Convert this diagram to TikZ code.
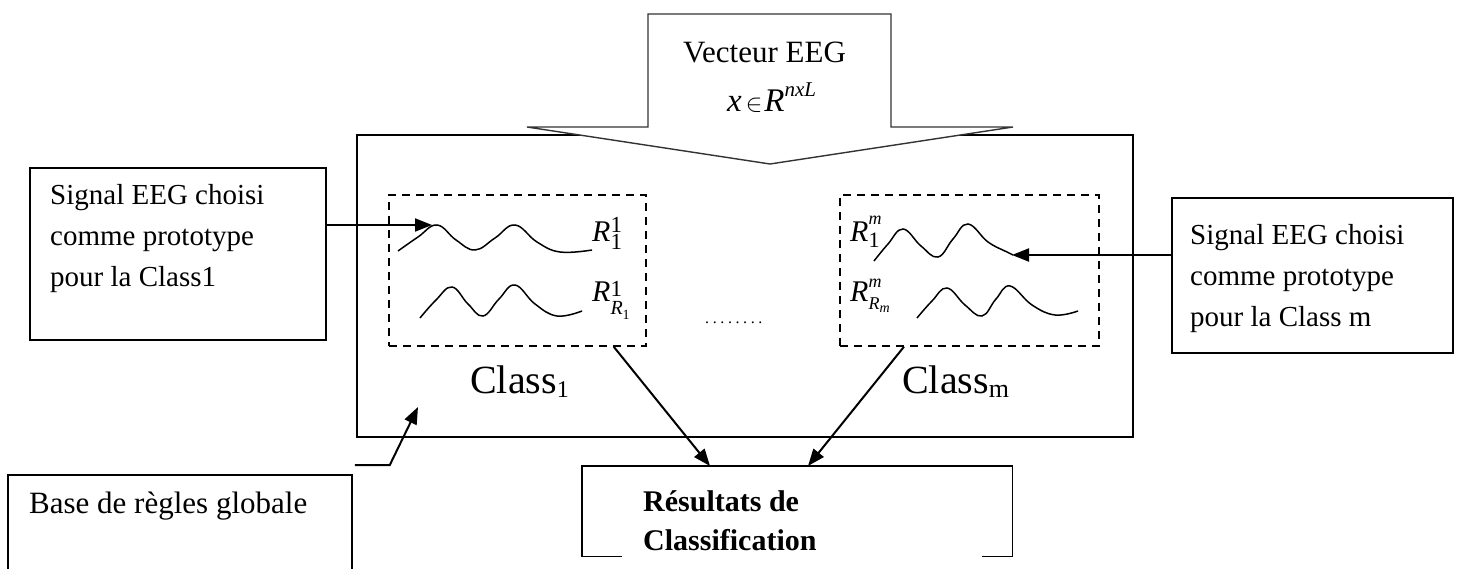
\documentclass[tikz,border=0pt]{standalone}
\usepackage{fontspec}
\setmainfont{Liberation Serif}
\usetikzlibrary{arrows.meta,calc}
\newcommand\fs[1]{\fontsize{#1}{#1}\selectfont}
\newcommand\dotrow{.\kern3.6pt.\kern3.6pt.\kern3.6pt.\kern3.6pt.\kern3.6pt.\kern3.6pt.\kern3.6pt.}
\begin{document}
\begin{tikzpicture}[x=1pt,y=-1pt,line join=miter,
  box/.style={draw,line width=1.8pt,inner sep=0pt,anchor=north west},
  dbox/.style={draw,line width=1.7pt,dash pattern=on 8pt off 6pt,inner sep=0pt,anchor=north west},
  txt/.style={anchor=base west,inner sep=0pt},
  conn/.style={line width=2pt,-{Triangle[length=17pt,width=13pt]}},
  wave/.style={line width=1.5pt,smooth,tension=0.7}]
\useasboundingbox (0,0) rectangle (1460,569);

% main rule-base box
\node[box,minimum width=776pt,minimum height=302pt] (main) at (356,134) {};

% big input arrow
\draw[line width=1.4pt,draw=black!80,fill=white] (648,14) coordinate (arrTL) -- (891,14) -- (891,127) -- (1013,127) -- (770,164) coordinate (arrTip) -- (527,127) -- (648,127) -- cycle;
\node[txt,font=\fs{31}] (vec) at (683,63) {Vecteur EEG};
\node[txt] (xvec) at (727,112) {\fs{33}\textit{x}\kern4pt$\in$\kern2pt\textit{R}\raisebox{15pt}{\fs{21}\textit{nxL}}};

% dashed class boxes
\node[dbox,minimum width=257pt,minimum height=151pt] (cls1) at (388,194) {};
\node[dbox,minimum width=259pt,minimum height=151pt] (clsm) at (839,194) {};

% waves
\draw[wave] plot coordinates {(398,251) (418,237) (437,225) (456,240) (475,250) (495,238) (515,225) (537,242) (560,252) (592,250)};
\draw[wave] plot coordinates {(420,318) (436,300) (452,287) (468,304) (483,316) (499,299) (515,285) (535,304) (557,316) (582,311)};
\draw[wave] plot coordinates {(874,261) (888,244) (903,229) (921,246) (938,257) (953,239) (968,224) (988,242) (1007,252) (1013,255)};
\draw[wave] plot coordinates {(917,318) (932,301) (947,288) (965,305) (982,316) (996,299) (1010,286) (1032,305) (1055,315) (1078,311)};

% R labels
\node[txt] (r11) at (592,242) {\fs{30}\textit{R}\rlap{\raisebox{9pt}{\fs{23}1}}\raisebox{-8pt}{\fs{23}1}};
\node[txt] (r1r) at (592,302) {\fs{30}\textit{R}\rlap{\raisebox{5pt}{\fs{23}1}}\raisebox{-13pt}{\fs{20}\textit{R}\raisebox{-5pt}{\fs{14}1}}};
\node[txt] (rm1) at (850,242) {\fs{30}\textit{R}\rlap{\raisebox{17pt}{\fs{18}\textit{m}}}\raisebox{-6pt}{\fs{22}1}};
\node[txt] (rmr) at (850,302) {\fs{30}\textit{R}\rlap{\raisebox{14pt}{\fs{18}\textit{m}}}\raisebox{-8pt}{\fs{18}\textit{R}\raisebox{-3pt}{\fs{14}\textit{m}}}};

% class labels and dots
\node[txt,font=\fs{40}] (c1) at (470,393) {Class\raisebox{-5pt}{\fs{24}1}};
\node[txt,font=\fs{40}] (cm) at (902,393) {Class\raisebox{-5pt}{\fs{26}m}};
\node[txt,font=\fs{16}] (dots) at (705,324) {\dotrow};

% prototype boxes
\node[box,minimum width=296pt,minimum height=172pt] (sig1) at (29,167) {};
\node[txt,font=\fs{29}] (s1a) at (50,205) {Signal EEG choisi};
\node[txt,font=\fs{29}] (s1b) at (50,246) {comme prototype};
\node[txt,font=\fs{29}] (s1c) at (50,287) {pour la Class1};
\node[box,minimum width=281pt,minimum height=155pt] (sig2) at (1171,197) {};
\node[txt,font=\fs{29}] (s2a) at (1190,245) {Signal EEG choisi};
\node[txt,font=\fs{29}] (s2b) at (1190,286) {comme prototype};
\node[txt,font=\fs{29}] (s2c) at (1190,327) {pour la Class m};

\coordinate (tip1) at (432,225);
\coordinate (tip2) at (1012,255);
\draw[conn] (sig1.east |- tip1) -- (tip1);
\draw[conn] (sig2.west |- tip2) -- (tip2);

% base de regles
\begin{scope}
\clip (0,0) rectangle (1460,569);
\node[box,minimum width=344pt,minimum height=120pt] (base) at (7,474) {};
\end{scope}
\node[txt,font=\fs{31}] (basetxt) at (29,513) {Base de règles globale};
\coordinate (bstart) at ($(base.north east)+(2,-9)$);
\coordinate (btip) at (418,407);
\draw[conn] (bstart) -- ++(35,0) -- (btip);

% results box (open bottom)
\node[inner sep=0pt,anchor=north west,minimum width=430pt,minimum height=90pt] (res) at (582,466) {};
\draw[line width=1.8pt] ($(res.south west)+(40,0)$) -- (res.south west) -- (res.north west) -- (res.north east) -- (res.south east) -- ++(-30,0);
\node[txt,font=\fs{30}\bfseries] (res1) at (643,511) {Résultats de};
\node[txt,font=\fs{30}\bfseries] (res2) at (643,550) {Classification};

% class to result connectors
\draw[conn] ($(cls1.south east)+(-33,0)$) -- ($(res.north west)+(128,0)$);
\draw[conn] ($(clsm.south west)+(65,0)$) -- ($(res.north west)+(226,0)$);
\end{tikzpicture}
\end{document}
